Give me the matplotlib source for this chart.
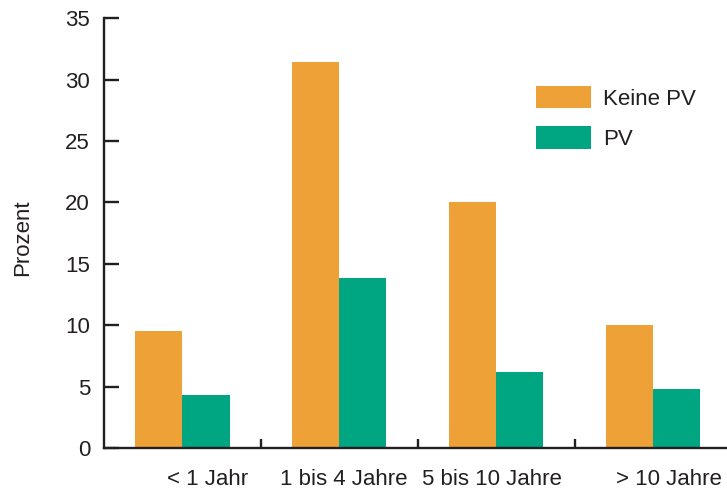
import matplotlib.pyplot as plt
import numpy as np

plt.rcParams['font.family'] = ['Liberation Sans', 'DejaVu Sans']

kategorien = ['< 1 Jahr', '1 bis 4 Jahre', '5 bis 10 Jahre', '> 10 Jahre']
keine_pv = [9.5, 31.4, 20.0, 10.0]
pv = [4.3, 13.8, 6.2, 4.8]
label_pos = [0.16, 1.03, 1.97, 3.1]

orange = '#eda136'
gruen = '#00a582'
achse = '#231f20'

fig = plt.figure(figsize=(7.27, 4.93), dpi=100)
ax = fig.add_axes([0.143, 0.0913, 0.857, 0.872])

x = np.arange(len(kategorien))
b = 0.3
ax.bar(x - b/2, keine_pv, b, color=orange, label='Keine PV')
ax.bar(x + b/2, pv, b, color=gruen, label='PV')

ax.set_xlim(-0.5, 3.47)
ax.set_ylim(0, 35)
ax.set_yticks(range(0, 36, 5))
ax.set_xticks([0.5, 1.5, 2.5])
ax.set_xticklabels([])

for s in ['top', 'right']:
    ax.spines[s].set_visible(False)
for s in ['left', 'bottom']:
    ax.spines[s].set_linewidth(1.7)
    ax.spines[s].set_color(achse)

ax.tick_params(axis='y', direction='in', length=11, width=1.7, color=achse,
               labelsize=16, labelcolor=achse, pad=10)
ax.tick_params(axis='x', direction='in', length=6.5, width=1.7, color=achse)

# Kategorien unter der Achse, leicht versetzt
for p, t in zip(label_pos, kategorien):
    ax.text(p, -2.6, t, ha='center', va='center', fontsize=16, color=achse)

ax.set_ylabel('Prozent', fontsize=16, color=achse)
ax.yaxis.set_label_coords(-0.114, 0.49)

ax.legend(loc='upper left', bbox_to_anchor=(0.662, 0.888), frameon=False,
          fontsize=16, handlelength=2.45, handleheight=1.15,
          handletextpad=0.55, labelspacing=0.75, labelcolor=achse)

fig.savefig('out.png', dpi=100)
